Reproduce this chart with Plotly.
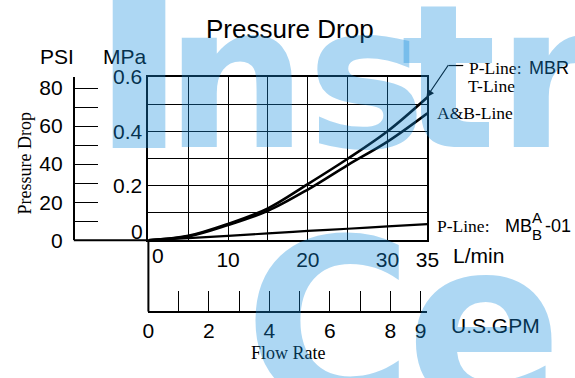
import plotly.graph_objects as go

W, H = 575, 378
def px(x): return x / W
def py(y): return 1 - y / H

# ---- data ----
flow_lpm = [0, 5, 10, 15, 20, 25, 30, 35]
p_t_line = [0, 0.016, 0.060, 0.117, 0.206, 0.299, 0.400, 0.525]   # MPa, P-Line MBR / T-Line
ab_line = [0, 0.014, 0.056, 0.108, 0.186, 0.276, 0.362, 0.466]    # MPa, A&B-Line
p_line_01 = [0, 0.008, 0.016, 0.025, 0.034, 0.042, 0.051, 0.059]  # MPa, P-Line MB A/B -01

lpm_ticks = [0, 5, 10, 15, 20, 25, 30, 35]
lpm_text = ['', '', '10', '', '20', '', '30', '35']
mpa_ticks = [0, 0.1, 0.2, 0.3, 0.4, 0.5, 0.6]
mpa_text = ['', '', '0.2', '', '0.4', '', '0.6']
psi_ticks = [0, 10, 20, 30, 40, 50, 60, 70, 80]
psi_text = ['0', '', '20', '', '40', '', '60', '', '80']
gpm_ticks = [0, 1, 2, 3, 4, 5, 6, 7, 8, 9]
gpm_text = ['0', '', '2', '', '4', '', '6', '', '8', '9']

SANS = "Liberation Sans, Arial, sans-serif"
SERIF = "Liberation Serif, Times New Roman, serif"

fig = go.Figure()
for ys, w in [(p_t_line, 2.6), (ab_line, 2.6), (p_line_01, 2.2)]:
    fig.add_trace(go.Scatter(x=flow_lpm, y=ys, mode='lines',
                             line=dict(color='black', width=w, shape='spline'),
                             showlegend=False, hoverinfo='skip'))
# helper traces so secondary axes are drawn
fig.add_trace(go.Scatter(x=[0], y=[0], xaxis='x2', yaxis='y', mode='markers',
                         marker=dict(opacity=0), showlegend=False, hoverinfo='skip'))
fig.add_trace(go.Scatter(x=[0], y=[0], xaxis='x', yaxis='y2', mode='markers',
                         marker=dict(opacity=0), showlegend=False, hoverinfo='skip'))

tf = dict(family=SANS, size=21, color='black')
fig.update_layout(
    width=W, height=H, margin=dict(l=0, r=0, t=0, b=0),
    paper_bgcolor='white', plot_bgcolor='white',
    xaxis=dict(domain=[px(147), px(435)], range=[0, 35], tickvals=lpm_ticks, ticktext=lpm_text,
               showgrid=True, gridcolor='black', gridwidth=1.2, showline=True, linecolor='black',
               linewidth=2, mirror=True, ticks='', zeroline=False, tickfont=tf, anchor='y',
               fixedrange=True),
    yaxis=dict(domain=[py(243), py(69)], range=[0, 0.6], tickvals=mpa_ticks, ticktext=mpa_text,
               showgrid=True, gridcolor='black', gridwidth=1.2, showline=True, linecolor='black',
               linewidth=2, mirror=True, ticks='', zeroline=False, tickfont=tf, anchor='x',
               fixedrange=True),
    yaxis2=dict(overlaying='y', anchor='free', position=px(70), side='left', range=[0, 85.9],
                tickvals=psi_ticks, ticktext=psi_text, ticks='inside', ticklen=23, tickwidth=1.3,
                tickcolor='black', showline=True, linecolor='black', linewidth=2, showgrid=False,
                zeroline=False, tickfont=tf, ticklabelstandoff=6, fixedrange=True),
    xaxis2=dict(overlaying='x', anchor='free', position=py(319), side='bottom', range=[0, 9.224],
                tickvals=gpm_ticks, ticktext=gpm_text, ticks='inside', ticklen=20, tickwidth=1.3,
                tickcolor='black', showline=True, linecolor='black', linewidth=2, showgrid=False,
                zeroline=False, tickfont=tf, fixedrange=True),
)

# extra axis segments
fig.add_shape(type='line', xref='paper', yref='paper', x0=px(147), x1=px(147), y0=py(243), y1=py(319),
              line=dict(color='black', width=2))
fig.add_shape(type='line', xref='paper', yref='paper', x0=px(70), x1=px(147), y0=py(243), y1=py(243),
              line=dict(color='black', width=2))
fig.add_shape(type='line', xref='paper', yref='paper', x0=px(457), x1=px(472), y0=py(57), y1=py(57),
              line=dict(color='black', width=1.2))

def ann(text, x, y, size=21, family=SANS, xanchor='center', yanchor='middle', color='black', **kw):
    fig.add_annotation(text=text, x=px(x), y=py(y), xref='paper', yref='paper', showarrow=False,
                       xanchor=xanchor, yanchor=yanchor, borderpad=0,
                       font=dict(family=family, size=size, color=color), **kw)

ann('Pressure Drop', 293, 18, size=26)
ann('PSI', 53, 47)
ann('MPa', 123, 47)
ann('0', 135, 234)
ann('0', 157, 259)
ann('L/min', 460, 259, xanchor='left')
ann('U.S.GPM', 458, 334, xanchor='left')
ann('Flow Rate', 292, 363, size=18, family=SERIF)
ann('Pressure Drop', 20, 161, size=18, family=SERIF, textangle=-90)

ann('P-Line:', 477, 60, size=17.5, family=SERIF, xanchor='left')
ann('MBR', 539, 60, size=18, xanchor='left')
ann('T-Line', 476, 79, size=17.5, family=SERIF, xanchor='left')
ann('A&B-Line', 444, 108, size=17.5, family=SERIF, xanchor='left')
ann('P-Line:', 444, 228, size=17.5, family=SERIF, xanchor='left')
ann('MB', 514, 228, size=18, xanchor='left')
ann('A', 542, 219, size=15, xanchor='left')
ann('B', 542, 237, size=15, xanchor='left')
ann('-01', 555, 228, size=18, xanchor='left')

# arrow to the P/T curve
fig.add_annotation(x=px(434), y=py(91), xref='paper', yref='paper', ax=23, ay=-34, text='',
                   showarrow=True, arrowhead=2, arrowsize=1.3, arrowwidth=1.2, arrowcolor='black')

# watermark letters (semi-transparent overlay)
WM = 'rgba(20,140,220,0.35)'
def wm(ch, x, y, size):
    fig.add_annotation(text=ch, x=px(x), y=py(y), xref='paper', yref='paper', showarrow=False,
                       xanchor='center', yanchor='middle', borderpad=0,
                       font=dict(family='DejaVu Sans', size=size, color=WM, weight='bold'))
wm('I', 137, 42, 280)
wm('n', 237, 70, 200)
wm('s', 372, 70, 200)
wm('t', 457, 70, 200)
wm('r', 558, 70, 200)
wm('C', 333, 333, 231)
wm('e', 494, 333, 231)

fig.write_html('out.html')
